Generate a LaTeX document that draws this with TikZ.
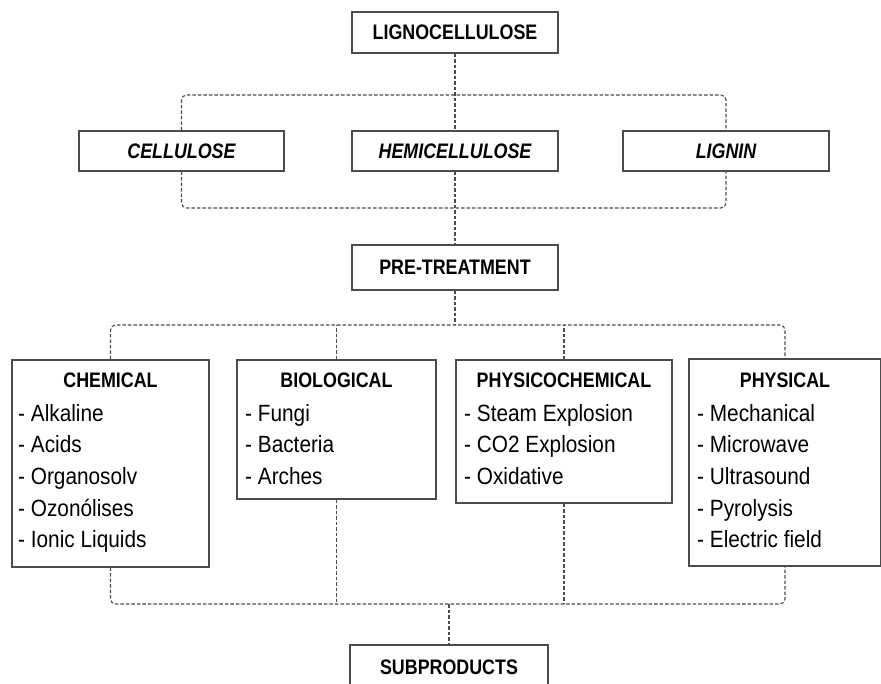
\documentclass[tikz,border=0pt]{standalone}
\usepackage{fontspec}
\setmainfont{Liberation Sans}
\newfontfamily\hdfont[FakeStretch=0.85]{Liberation Sans}
\newfontfamily\bodyfont[FakeStretch=0.885]{Liberation Sans}
\tikzset{
  box/.style={draw=black!70, line width=1.3pt, fill=white, rectangle, inner sep=0pt},
  conn/.style={draw=black!70, line width=1.1pt, dash pattern=on 3.5pt off 2pt},
  title/.style={font=\hdfont\bfseries\fontsize{21}{21}\selectfont, inner sep=0pt},
  ititle/.style={font=\hdfont\bfseries\itshape\fontsize{21}{21}\selectfont, inner sep=0pt},
  item/.style={font=\bodyfont\fontsize{23.5}{23.5}\selectfont, inner sep=0pt, anchor=base west},
  head/.style={font=\hdfont\bfseries\fontsize{21}{21}\selectfont, inner sep=0pt, anchor=base}
}
\begin{document}
\begin{tikzpicture}[x=1pt,y=-1pt]
\clip (0,0) rectangle (881,684);
\fill[white] (0,0) rectangle (881,684);
% coordinates of bars
\coordinate (topbar) at (455,95);
\coordinate (botbar) at (455,208);
\coordinate (pbar) at (455,325);
\coordinate (sbar) at (449,604);
% top boxes
\node[box, minimum width=206pt, minimum height=41pt] (ligno) at (455,32.5) {};
\node[box, minimum width=205pt, minimum height=40pt] (cell) at (181.5,151) {};
\node[box, minimum width=206pt, minimum height=40pt] (hemi) at (455,151) {};
\node[box, minimum width=206pt, minimum height=40pt] (lignin) at (726,151) {};
\node[box, minimum width=206pt, minimum height=45pt] (pre) at (455,267.5) {};
% category boxes
\node[box, minimum width=197pt, minimum height=207pt] (chem) at (110.5,463.5) {};
\node[box, minimum width=199pt, minimum height=139pt] (bio) at (336.5,429.5) {};
\node[box, minimum width=216pt, minimum height=143pt] (phc) at (564,431.5) {};
\node[box, minimum width=192pt, minimum height=207pt] (phys) at (785,462.5) {};
\node[box, minimum width=198pt, minimum height=50pt] (sub) at (449,670) {};
% connectors
\draw[conn, rounded corners=5pt] (cell.north) |- (topbar) -| (lignin.north);
\draw[conn, rounded corners=5pt] (cell.south) |- (botbar) -| (lignin.south);
\draw[conn] (ligno) -- (hemi);
\draw[conn] (hemi) -- (pre);
\draw[conn] (pre) -- (pbar);
\draw[conn, rounded corners=5pt] (chem.north) |- (pbar) -| (phys.north);
\draw[conn] (bio.north) -- (bio.north |- pbar);
\draw[conn] (phc.north) -- (phc.north |- pbar);
\draw[conn, rounded corners=5pt] (chem.south) |- (sbar) -| (phys.south);
\draw[conn] (bio.south) -- (bio.south |- sbar);
\draw[conn] (phc.south) -- (phc.south |- sbar);
\draw[conn] (sbar) -- (sub);
% titles
\node[title] (lignoT) at (ligno) {LIGNOCELLULOSE};
\node[ititle] (cellT) at (cell) {CELLULOSE};
\node[ititle] (hemiT) at (hemi) {HEMICELLULOSE};
\node[ititle] (ligninT) at (lignin) {LIGNIN};
\node[title] (preT) at (pre) {PRE-TREATMENT};
\node[title, anchor=base] (subT) at (449,674) {SUBPRODUCTS};
% headers
\node[head] (chemH) at (110.5,388) {CHEMICAL};
\node[head] (bioH) at (336.5,388) {BIOLOGICAL};
\node[head] (phcH) at (564,388) {PHYSICOCHEMICAL};
\node[head] (physH) at (785,388) {PHYSICAL};
% items
\foreach \t [count=\i from 0] in {Alkaline,Acids,Organosolv,Ozonólises,Ionic Liquids}
  \node[item] (chemI\i) at (18,421+31.7*\i) {- \t};
\foreach \t [count=\i from 0] in {Fungi,Bacteria,Arches}
  \node[item] (bioI\i) at (245,421+31.7*\i) {- \t};
\foreach \t [count=\i from 0] in {Steam Explosion,CO2 Explosion,Oxidative}
  \node[item] (phcI\i) at (464,421+31.7*\i) {- \t};
\foreach \t [count=\i from 0] in {Mechanical,Microwave,Ultrasound,Pyrolysis,Electric field}
  \node[item] (physI\i) at (697,421+31.7*\i) {- \t};
\end{tikzpicture}
\end{document}
